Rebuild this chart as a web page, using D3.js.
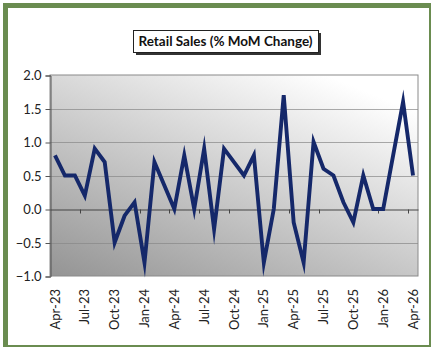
<!DOCTYPE html>
<html><head><meta charset="utf-8">
<script src="https://cdn.jsdelivr.net/npm/d3@7"></script>
<style>html,body{margin:0;padding:0;background:#fff;}svg{display:block;}</style>
</head><body>
<svg id="chart" width="431" height="347"></svg>
<script>
const title = "Retail Sales (% MoM Change)";
const months = ["Apr-23","May-23","Jun-23","Jul-23","Aug-23","Sep-23","Oct-23","Nov-23","Dec-23",
  "Jan-24","Feb-24","Mar-24","Apr-24","May-24","Jun-24","Jul-24","Aug-24","Sep-24","Oct-24","Nov-24","Dec-24",
  "Jan-25","Feb-25","Mar-25","Apr-25","May-25","Jun-25","Jul-25","Aug-25","Sep-25","Oct-25","Nov-25","Dec-25",
  "Jan-26","Feb-26","Mar-26","Apr-26"];
const values = [0.8,0.5,0.5,0.2,0.9,0.7,-0.5,-0.1,0.1,
  -0.8,0.7,0.35,0.0,0.8,0.0,0.9,-0.3,0.9,0.7,0.5,0.8,
  -0.8,0.0,1.7,-0.2,-0.8,1.0,0.6,0.5,0.1,-0.2,0.5,0.0,
  0.0,0.8,1.6,0.5];
const yTicks = [-1.0,-0.5,0.0,0.5,1.0,1.5,2.0];
const xTickLabels = ["Apr-23","Jul-23","Oct-23","Jan-24","Apr-24","Jul-24","Oct-24","Jan-25","Apr-25","Jul-25","Oct-25","Jan-26","Apr-26"];

const svg = d3.select("#chart");
const font = "Lato, 'Open Sans', sans-serif";

// outer green frame
svg.append("rect").attr("x",5.5).attr("y",5.5).attr("width",426).attr("height",342)
  .attr("fill","#fff").attr("stroke","#6a8c50").attr("stroke-width",5);

const L=50, R=418, T=75, B=276;
const x = d3.scaleBand().domain(months).range([L,R]).paddingInner(0).paddingOuter(0);
const y = d3.scaleLinear().domain([-1,2]).range([B,T]);

const defs = svg.append("defs");
const g = defs.append("linearGradient").attr("id","bg").attr("x1","0").attr("y1","1").attr("x2","0.75").attr("y2","0");
g.append("stop").attr("offset","0%").attr("stop-color","#949494");
g.append("stop").attr("offset","100%").attr("stop-color","#ffffff");

svg.append("rect").attr("x",L).attr("y",T).attr("width",R-L).attr("height",B-T)
  .attr("fill","url(#bg)").attr("stroke","#8a8a8a").attr("stroke-width",1);

// gridlines
svg.append("g").selectAll("line").data(yTicks.filter(d=>d!==0 && d!==-1 && d!==2)).join("line")
  .attr("x1",L).attr("x2",R).attr("y1",d=>Math.round(y(d))+0.5).attr("y2",d=>Math.round(y(d))+0.5)
  .attr("stroke","#888").attr("stroke-width",1).attr("opacity",0.7);

// y axis
const yAxis = d3.axisLeft(y).tickValues(yTicks).tickFormat(d3.format(".1f")).tickSize(5).tickPadding(4);
const ya = svg.append("g").attr("transform",`translate(${L+0.5},0.5)`).call(yAxis);
ya.select(".domain").attr("stroke","#555");
ya.selectAll(".tick line").attr("stroke","#555");
ya.selectAll("text").attr("font-family",font).attr("font-size",13).attr("fill","#222");

// x axis at zero
const tickCats = months.filter((d,i)=>i%3===0);
const xAxis = d3.axisBottom(x).tickValues(tickCats).tickFormat("").tickSize(4).tickSizeOuter(0);
const xa = svg.append("g").attr("transform",`translate(0,${Math.round(y(0))+0.5})`).call(xAxis);
xa.select(".domain").attr("stroke","#444").attr("stroke-width",1.2);
xa.selectAll(".tick").attr("transform",d=>`translate(${Math.round(x(d))+0.5},0)`);
xa.selectAll(".tick line").attr("stroke","#444");
xa.selectAll(".tick").filter((d,i)=>i===0).remove();

// x labels
svg.append("g").selectAll("text").data(xTickLabels).join("text")
  .attr("transform",d=>`translate(${x(d)+x.bandwidth()/2},289) rotate(-90)`)
  .attr("dy","0.35em").attr("text-anchor","end")
  .attr("font-family",font).attr("font-size",13).attr("fill","#222").text(d=>d);

// line
const line = d3.line().x((d,i)=>x(months[i])+x.bandwidth()/2).y(d=>y(d));
svg.append("path").datum(values).attr("d",line).attr("fill","none")
  .attr("stroke","#15286a").attr("stroke-width",3.9).attr("stroke-linejoin","miter").attr("stroke-miterlimit",10);

// title box
const tx=133, ty=30, tw=185, th=22;
svg.append("rect").attr("x",tx+3).attr("y",ty+3).attr("width",tw).attr("height",th).attr("fill","#333");
svg.append("rect").attr("x",tx+0.5).attr("y",ty+0.5).attr("width",tw).attr("height",th)
  .attr("fill","#fff").attr("stroke","#222").attr("stroke-width",1);
svg.append("text").attr("x",tx+tw/2).attr("y",ty+th/2).attr("dy","0.35em").attr("text-anchor","middle")
  .attr("font-family",font).attr("font-weight","bold").attr("font-size",13.5).attr("fill","#111").text(title);
</script>
</body></html>
